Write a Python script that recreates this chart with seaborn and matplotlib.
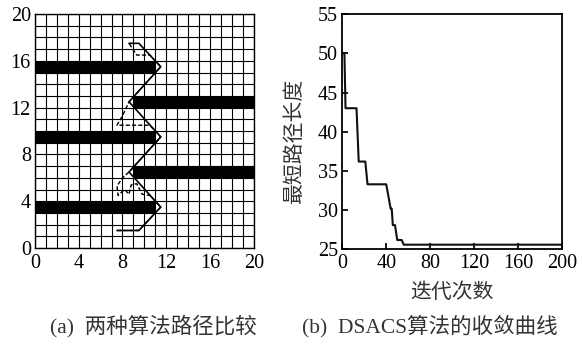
import matplotlib.pyplot as plt
import seaborn as sns

# obstacles on the 20x20 grid: row bottom, x start, x end
obs_row = [3, 6, 9, 12, 15]
obs_x0 = [0, 9, 0, 9, 0]
obs_x1 = [11, 20, 11, 20, 11]

# DSACS path (solid)
path_x = [7.5, 9.5, 11.5, 8.6, 11.5, 8.6, 11.5, 9.5, 8.6]
path_y = [1.5, 1.5, 3.5, 6.5, 9.5, 12.5, 15.5, 17.5, 17.5]

# other algorithm path (dashed)
path2_x = [7.5, 9.5, 11.5, 10.5, 9.8, 9.3, 8.8, 8.6, 8.2, 7.6, 7.5, 8.0, 8.6,
           11.5, 10.5, 7.5, 8.0, 8.6, 11.5, 10.5, 9.3, 8.6]
path2_y = [1.5, 1.5, 3.5, 4.5, 4.6, 5.5, 5.4, 4.6, 5.0, 4.5, 5.3, 6.0, 6.5,
           9.5, 10.5, 10.5, 11.3, 12.5, 15.5, 16.5, 16.5, 17.5]

# convergence curve
iters = [0, 2, 3, 13, 15, 21, 23, 40, 43, 44, 45, 46, 48, 50, 54, 56, 200]
best_len = [50, 50, 43, 43, 36.2, 36.2, 33.3, 33.3, 31.0, 30.2, 30.2, 28.1, 28.1,
            26.2, 26.2, 25.6, 25.6]

sns.set_theme(style="ticks")
plt.rcParams["font.family"] = ["Liberation Serif", "Noto Sans CJK SC"]
plt.rcParams["axes.edgecolor"] = "black"
plt.rcParams["axes.linewidth"] = 1.3

fig = plt.figure(figsize=(5.82, 3.44), dpi=100)
ax1 = fig.add_axes([0.060, 0.279, 0.376, 0.680])
ax2 = fig.add_axes([0.588, 0.275, 0.378, 0.684])

# --- (a) grid map
ax1.set_xlim(0, 20)
ax1.set_ylim(0, 20)
ax1.set_xticks(range(0, 21, 1), minor=True)
ax1.set_yticks(range(0, 21, 1), minor=True)
ax1.set_xticks(range(0, 21, 4))
ax1.set_yticks(range(0, 21, 4))
ax1.grid(which="both", color="black", linewidth=0.8)
ax1.tick_params(which="both", length=0, labelsize=14.5, colors="black")
ax1.tick_params(axis="x", pad=4)
ax1.tick_params(axis="y", pad=3)
ax1.set_axisbelow(True)
ax1.barh([r + 0.5 for r in obs_row], [b - a for a, b in zip(obs_x0, obs_x1)],
         left=obs_x0, height=1, color="black", edgecolor="black", linewidth=0,
         zorder=3)
sns.lineplot(x=path2_x, y=path2_y, sort=False, estimator=None, ax=ax1,
             color="black", linestyle=(0, (3, 1.5)), linewidth=1.0, zorder=4)
sns.lineplot(x=path_x, y=path_y, sort=False, estimator=None, ax=ax1,
             color="black", linewidth=1.2, zorder=5)
for s in ax1.spines.values():
    s.set_linewidth(1.0)

# --- (b) convergence
sns.lineplot(x=iters, y=best_len, sort=False, estimator=None, ax=ax2,
             color="#111111", linewidth=1.5)
ax2.set_xlim(0, 200)
ax2.set_ylim(25, 55)
ax2.set_xticks(range(0, 201, 40))
ax2.set_yticks(range(25, 56, 5))
ax2.tick_params(direction="in", length=4, labelsize=14.5, colors="black", pad=3,
                top=False, right=False)
ax2.set_xlabel("迭代次数", fontsize=15, labelpad=8, color="#333333")
ax2.set_ylabel("最短路径长度", fontsize=15, color="#333333")
ax2.yaxis.set_label_coords(-0.17, 0.46)

fig.text(0.264, 0.052, "(a)  两种算法路径比较", ha="center", va="center",
         fontsize=15.5, color="#333333")
fig.text(0.739, 0.052, "(b)  DSACS算法的收敛曲线", ha="center", va="center",
         fontsize=15.5, color="#333333")

fig.savefig("out.png", dpi=100)
